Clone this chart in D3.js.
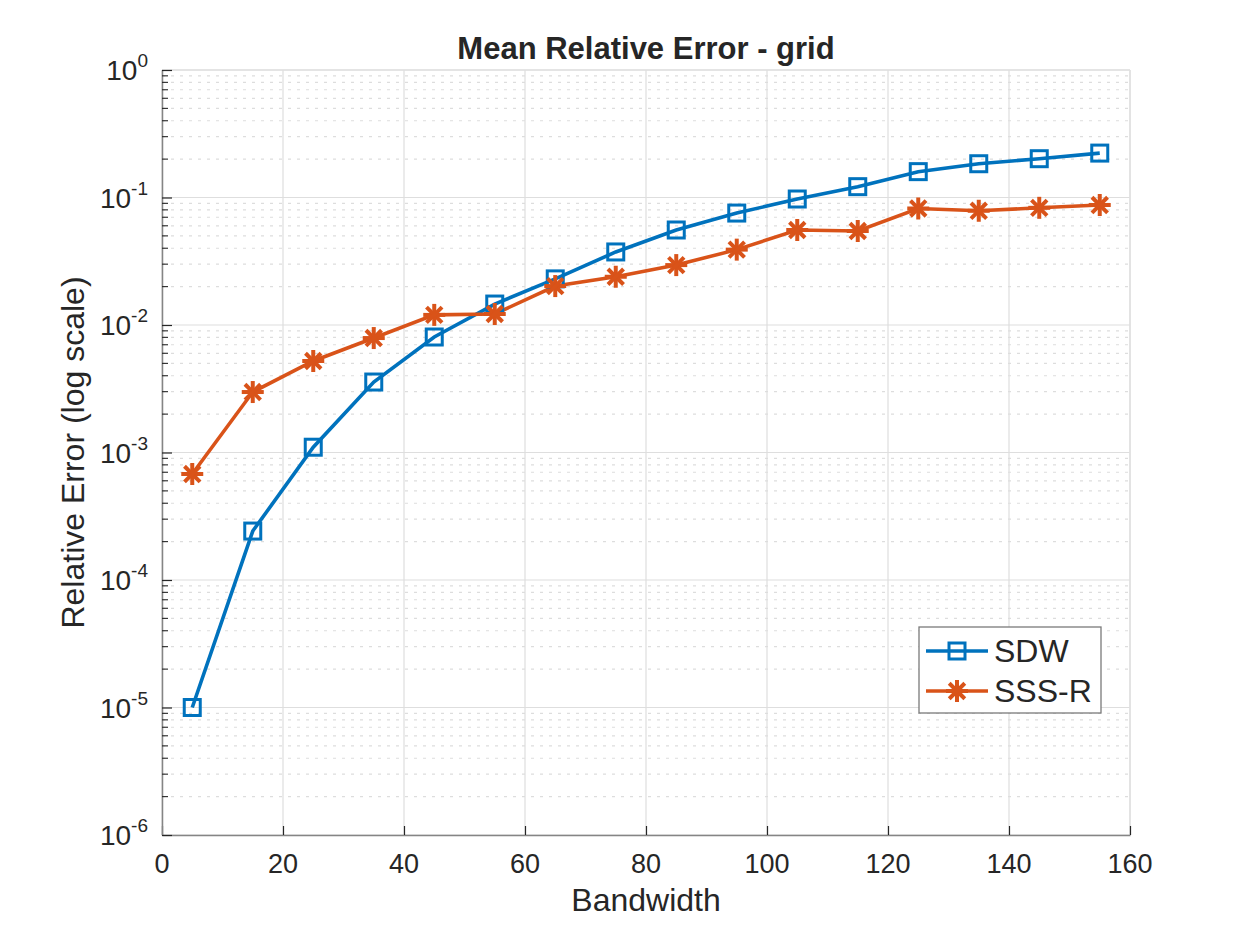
<!DOCTYPE html>
<html>
<head>
<meta charset="utf-8">
<script src="https://cdn.jsdelivr.net/npm/d3@7"></script>
<style>
  body { margin: 0; background: #fff; }
  text { font-family: "Liberation Sans", Arial, Helvetica, sans-serif; fill: #262626; }
</style>
</head>
<body>
<div id="chart"></div>
<script>
// data
var bandwidth = [5, 15, 25, 35, 45, 55, 65, 75, 85, 95, 105, 115, 125, 135, 145, 155];
var sdw = [1.0e-5, 2.42e-4, 1.1e-3, 3.57e-3, 8.05e-3, 1.46e-2, 2.3e-2, 3.74e-2, 5.56e-2,
  7.55e-2, 9.73e-2, 0.1216, 0.1595, 0.184, 0.2015, 0.223];
var sssr = [6.78e-4, 2.98e-3, 5.22e-3, 7.9e-3, 1.2e-2, 1.22e-2, 2.02e-2, 2.39e-2, 2.95e-2,
  3.9e-2, 5.56e-2, 5.46e-2, 8.2e-2, 7.87e-2, 8.3e-2, 8.73e-2];
var xTicks = [0, 20, 40, 60, 80, 100, 120, 140, 160];
var yExps = [-6, -5, -4, -3, -2, -1, 0];
var seriesNames = ["SDW", "SSS-R"];

var width = 1250, height = 938;
var pLeft = 162, pRight = 1130, pTop = 70, pBottom = 835;

var svg = d3.select("#chart").append("svg")
  .attr("width", width)
  .attr("height", height);

var xScale = d3.scaleLinear().domain([0, 160]).range([pLeft, pRight]);
var yScale = d3.scaleLog().domain([1e-6, 1]).range([pBottom, pTop]);

// minor grid (horizontal, dotted)
var minors = [];
yExps.slice(0, -1).forEach(function(e) {
  for (var k = 2; k <= 9; k++) minors.push(k * Math.pow(10, e));
});
svg.append("g").selectAll("line").data(minors).enter().append("line")
  .attr("x1", pLeft).attr("x2", pRight)
  .attr("y1", function(d) { return yScale(d); })
  .attr("y2", function(d) { return yScale(d); })
  .attr("stroke", "#dddddd")
  .attr("stroke-width", 1.2)
  .attr("stroke-dasharray", "3,6");

// major grid
svg.append("g").selectAll("line").data(yExps).enter().append("line")
  .attr("x1", pLeft).attr("x2", pRight)
  .attr("y1", function(d) { return yScale(Math.pow(10, d)); })
  .attr("y2", function(d) { return yScale(Math.pow(10, d)); })
  .attr("stroke", "#dedede")
  .attr("stroke-width", 1.2);
svg.append("g").selectAll("line").data(xTicks).enter().append("line")
  .attr("x1", function(d) { return xScale(d); })
  .attr("x2", function(d) { return xScale(d); })
  .attr("y1", pTop).attr("y2", pBottom)
  .attr("stroke", "#dedede")
  .attr("stroke-width", 1.2);

// box top / right
svg.append("line").attr("x1", pLeft).attr("x2", pRight).attr("y1", pTop).attr("y2", pTop)
  .attr("stroke", "#e0e0e0").attr("stroke-width", 1.5);
svg.append("line").attr("x1", pRight).attr("x2", pRight).attr("y1", pTop).attr("y2", pBottom)
  .attr("stroke", "#e0e0e0").attr("stroke-width", 1.5);

// axes
var xAxis = d3.axisBottom(xScale).tickValues(xTicks).tickSize(-9).tickSizeOuter(0).tickFormat("");
svg.append("g")
  .attr("transform", "translate(0," + pBottom + ")")
  .call(xAxis)
  .call(function(g) {
    g.select(".domain").attr("stroke", "#858585").attr("stroke-width", 1.5);
    g.selectAll(".tick line").attr("stroke", "#262626").attr("stroke-width", 1.2);
  });

var yAxis = d3.axisLeft(yScale)
  .tickValues(yExps.map(function(e) { return Math.pow(10, e); }))
  .tickSize(-10).tickSizeOuter(0).tickFormat("");
svg.append("g")
  .attr("transform", "translate(" + pLeft + ",0)")
  .call(yAxis)
  .call(function(g) {
    g.select(".domain").attr("stroke", "#858585").attr("stroke-width", 1.5);
    g.selectAll(".tick line").attr("stroke", "#262626").attr("stroke-width", 1.2);
  });

// minor ticks on y
svg.append("g").selectAll("line").data(minors).enter().append("line")
  .attr("x1", pLeft).attr("x2", pLeft + 6)
  .attr("y1", function(d) { return yScale(d); })
  .attr("y2", function(d) { return yScale(d); })
  .attr("stroke", "#262626")
  .attr("stroke-width", 1.1);

// tick labels
svg.append("g").selectAll("text").data(xTicks).enter().append("text")
  .attr("x", function(d) { return xScale(d); })
  .attr("y", pBottom + 38)
  .attr("text-anchor", "middle")
  .attr("font-size", 27)
  .text(function(d) { return d; });

var yLab = svg.append("g").selectAll("text").data(yExps).enter().append("text")
  .attr("x", pLeft - 14)
  .attr("y", function(d) { return yScale(Math.pow(10, d)) + 10; })
  .attr("text-anchor", "end")
  .attr("font-size", 28);
yLab.append("tspan").text("10");
yLab.append("tspan").attr("dy", -13).attr("font-size", 19)
  .text(function(d) { return d === 0 ? "0" : "-" + (-d); });

// lines
var line = d3.line()
  .x(function(d, i) { return xScale(bandwidth[i]); })
  .y(function(d) { return yScale(d); });

var colors = ["#0072BD", "#D95319"];

svg.append("path").datum(sdw).attr("d", line)
  .attr("fill", "none").attr("stroke", colors[0]).attr("stroke-width", 3.6);
svg.append("path").datum(sssr).attr("d", line)
  .attr("fill", "none").attr("stroke", colors[1]).attr("stroke-width", 3.6);

function drawSquare(g, x, y, c) {
  g.append("rect")
    .attr("x", x - 8).attr("y", y - 8)
    .attr("width", 16).attr("height", 16)
    .attr("fill", "none").attr("stroke", c).attr("stroke-width", 3);
}
function drawStar(g, x, y, c) {
  var r = 11;
  [0, 45, 90, 135].forEach(function(a) {
    var rad = a * Math.PI / 180;
    g.append("line")
      .attr("x1", x - r * Math.cos(rad)).attr("y1", y - r * Math.sin(rad))
      .attr("x2", x + r * Math.cos(rad)).attr("y2", y + r * Math.sin(rad))
      .attr("stroke", c).attr("stroke-width", 4);
  });
}

var markG = svg.append("g");
sdw.forEach(function(v, i) { drawSquare(markG, xScale(bandwidth[i]), yScale(v), colors[0]); });
sssr.forEach(function(v, i) { drawStar(markG, xScale(bandwidth[i]), yScale(v), colors[1]); });

// title and labels
svg.append("text")
  .attr("x", (pLeft + pRight) / 2).attr("y", 59)
  .attr("text-anchor", "middle")
  .attr("font-size", 31).attr("font-weight", "bold")
  .text("Mean Relative Error - grid");

svg.append("text")
  .attr("x", (pLeft + pRight) / 2).attr("y", 911)
  .attr("text-anchor", "middle")
  .attr("font-size", 32)
  .text("Bandwidth");

svg.append("text")
  .attr("transform", "translate(84," + ((pTop + pBottom) / 2) + ")rotate(-90)")
  .attr("text-anchor", "middle")
  .attr("font-size", 32)
  .text("Relative Error (log scale)");

// legend
var leg = svg.append("g");
leg.append("rect")
  .attr("x", 919).attr("y", 627).attr("width", 182).attr("height", 86)
  .attr("fill", "#fff").attr("stroke", "#7a7a7a").attr("stroke-width", 1.3);
seriesNames.forEach(function(name, i) {
  var ly = 651 + i * 40;
  leg.append("line").attr("x1", 926).attr("x2", 988).attr("y1", ly).attr("y2", ly)
    .attr("stroke", colors[i]).attr("stroke-width", 3.6);
  if (i === 0) drawSquare(leg, 957, ly, colors[i]);
  else drawStar(leg, 957, ly, colors[i]);
  leg.append("text")
    .attr("x", 994).attr("y", ly + 11)
    .attr("font-size", 32)
    .text(name);
});
</script>
</body>
</html>
